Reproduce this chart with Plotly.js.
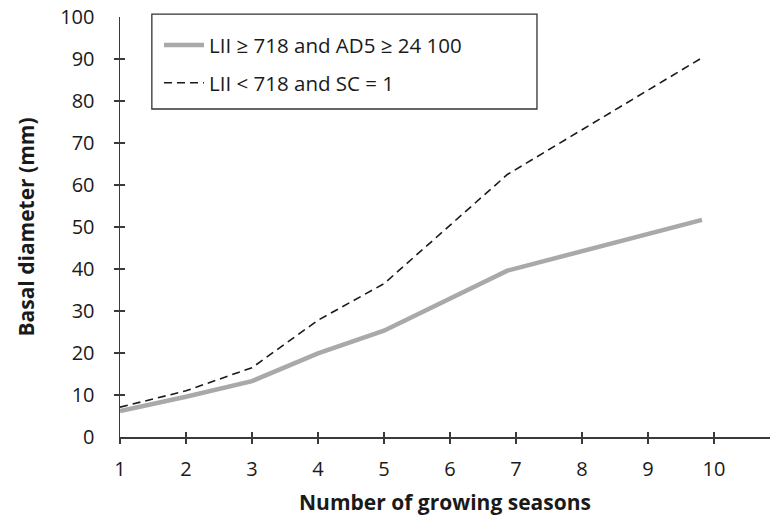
<!DOCTYPE html>
<html>
<head>
<meta charset="utf-8">
<script src="https://cdn.plot.ly/plotly-3.0.1.min.js"></script>
<style>html,body{margin:0;padding:0;background:#fff;}#chart{width:772px;height:518px;}</style>
</head>
<body>
<div id="chart"></div>
<script>
// Data
const seasons = [1, 2, 3, 4, 5, 6.87, 9.82];
const highLII = [6.2, 9.6, 13.3, 19.9, 25.3, 39.6, 51.7];
const lowLII  = [7.1, 11.0, 16.5, 27.8, 36.5, 62.5, 90.3];
const seriesNames = ["LII ≥ 718 and AD5 ≥ 24 100", "LII < 718 and SC = 1"];
const xTicks = [1, 2, 3, 4, 5, 6, 7, 8, 9, 10];
const yTicks = [0, 10, 20, 30, 40, 50, 60, 70, 80, 90, 100];
const yInnerTicks = [10, 20, 30, 40, 50, 60, 70, 80, 90];

const FONT = "Open Sans, Lato, sans-serif";
const axisColor = "#3a3a3a";
const xRange = [1, 10.85];
const yRange = [0, 100];

const traces = [
  {x: seasons, y: highLII, name: seriesNames[0], type: "scatter", mode: "lines",
   legendgroup: "a", line: {color: "#a9a9a9", width: 4.5}},
  {x: seasons, y: lowLII, name: seriesNames[1], type: "scatter", mode: "lines",
   legendgroup: "b", line: {color: "#1a1a1a", width: 1.6, dash: "8px,5px"}},
  {x: [], y: [], xaxis: "x2", yaxis: "y2", showlegend: false, hoverinfo: "skip"},
  {x: [], y: [], xaxis: "x", yaxis: "y3", showlegend: false, hoverinfo: "skip"}
];

const layout = {
  width: 772, height: 518,
  margin: {l: 120, r: 2, t: 17, b: 81},
  paper_bgcolor: "#fff", plot_bgcolor: "#fff",
  font: {family: FONT, size: 20, color: "#1a1a1a"},
  showlegend: true,
  legend: {
    x: 0.06, y: 0.999, xanchor: "left", yanchor: "top",
    borderwidth: 0, bgcolor: "rgba(0,0,0,0)",
    font: {family: FONT, size: 20.5, color: "#1a1a1a"},
    tracegroupgap: 8, itemwidth: 40,
    title: {text: " ", font: {size: 6}}
  },
  shapes: [{
    type: "rect", xref: "paper", yref: "paper",
    x0: 0.049, x1: 0.6415, y0: 0.781, y1: 1.007,
    line: {color: "#333", width: 1.3}, fillcolor: "rgba(0,0,0,0)", layer: "above"
  }],
  xaxis: {
    range: xRange, tickvals: xTicks, ticktext: xTicks.map(String),
    showgrid: false, zeroline: false, showline: true, linecolor: axisColor, linewidth: 1.5,
    ticks: "outside", ticklen: 5, tickwidth: 1.3, tickcolor: axisColor,
    ticklabelstandoff: 8,
    tickfont: {family: FONT, size: 20, color: "#1a1a1a"},
    title: {text: "Number of growing seasons", standoff: 15,
            font: {family: FONT, size: 21, color: "#1a1a1a", weight: "bold"}}
  },
  xaxis2: {
    range: xRange, overlaying: "x", anchor: "y", side: "bottom",
    tickvals: xTicks, showticklabels: false, showgrid: false, zeroline: false, showline: false,
    ticks: "inside", ticklen: 5, tickwidth: 1.3, tickcolor: axisColor
  },
  yaxis: {
    range: yRange, tickvals: yTicks, ticktext: yTicks.map(String),
    showgrid: false, zeroline: false, showline: true, linecolor: axisColor, linewidth: 1.5,
    ticks: "", ticklabelstandoff: 20,
    tickfont: {family: FONT, size: 20, color: "#1a1a1a"},
    title: {text: "Basal diameter (mm)", standoff: 20,
            font: {family: FONT, size: 21, color: "#1a1a1a", weight: "bold"}}
  },
  yaxis2: {
    range: yRange, overlaying: "y", anchor: "x", side: "left",
    tickvals: yInnerTicks, showticklabels: false, showgrid: false, zeroline: false, showline: false,
    ticks: "inside", ticklen: 5, tickwidth: 1.3, tickcolor: axisColor
  },
  yaxis3: {
    range: yRange, overlaying: "y", anchor: "x", side: "left",
    tickvals: yInnerTicks, showticklabels: false, showgrid: false, zeroline: false, showline: false,
    ticks: "outside", ticklen: 5, tickwidth: 1.3, tickcolor: axisColor
  }
};

Plotly.newPlot("chart", traces, layout, {displayModeBar: false, staticPlot: true});
</script>
</body>
</html>
